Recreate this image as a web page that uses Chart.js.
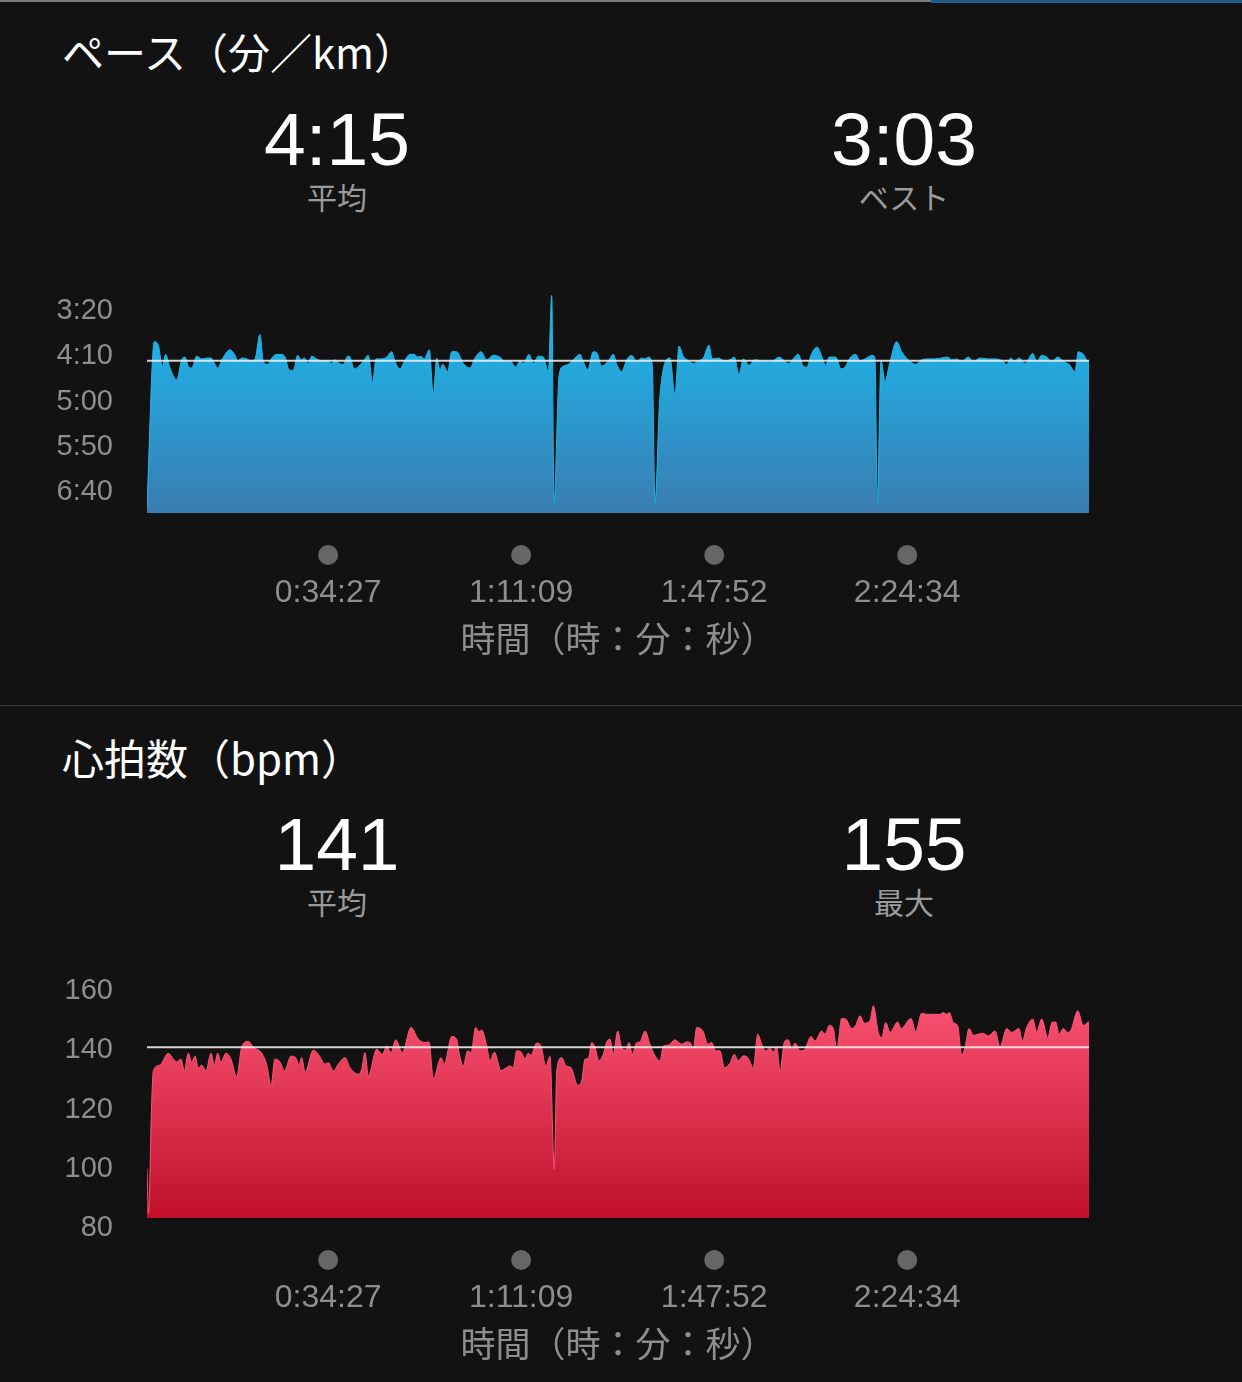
<!DOCTYPE html>
<html>
<head>
<meta charset="utf-8">
<script src="https://cdn.jsdelivr.net/npm/chart.js@4"></script>
<style>
  body { margin: 0; background: #121212; width: 1242px; height: 1382px; overflow: hidden; position: relative; }
  .abs { position: absolute; line-height: 1; white-space: nowrap; }
  .title { left: 62px; font: 42px "Noto Sans CJK JP"; color: #fff; }
  .big { font: 75px "Liberation Sans"; color: #fff; transform: translateX(-50%); }
  .sub { font: 30px "Noto Sans CJK JP"; color: #9a9a9a; transform: translateX(-50%); }
  canvas { position: absolute; left: 0; }
</style>
</head>
<body>
<div class="abs" style="left:0;top:0;width:931px;height:2px;background:#7a7a7a"></div>
<div class="abs" style="left:931px;top:0;width:311px;height:3px;background:#1c5f8c"></div>

<div class="abs title" style="top:20px">ペース（分／km）</div>
<div class="abs big" style="left:337px;top:96px">4:15</div>
<div class="abs sub" style="left:337px;top:174px">平均</div>
<div class="abs big" style="left:904px;top:96px">3:03</div>
<div class="abs sub" style="left:904px;top:174px">ベスト</div>
<canvas id="pace" width="1242" height="400" style="top:270px"></canvas>

<div class="abs" style="left:0;top:705px;width:1242px;height:1px;background:#3a3a3a"></div>

<div class="abs title" style="top:726px">心拍数（bpm）</div>
<div class="abs big" style="left:337px;top:801px">141</div>
<div class="abs sub" style="left:337px;top:879px">平均</div>
<div class="abs big" style="left:904px;top:801px">155</div>
<div class="abs sub" style="left:904px;top:879px">最大</div>
<canvas id="hr" width="1242" height="410" style="top:965px"></canvas>

<script>
// 経過時間（秒）の目盛り
const timeTicks = [2067, 4269, 6472, 8674];
const timeMax = 10748;

// ペース（秒／km）
const paceTicks = [200, 250, 300, 350, 400];
const paceAvg = 255;
const paceTimes = [
  0,83,129,175,213,262,339,396,434,471,
  510,567,624,681,730,756,807,859,947,1004,
  1035,1087,1138,1187,1232,1289,1327,1377,1423,1480,
  1529,1575,1620,1669,1719,1757,1795,1840,1879,1936,
  1993,2062,2107,2145,2191,2240,2290,2316,2365,2419,
  2479,2525,2575,2613,2678,2735,2792,2830,2887,2944,
  3001,3050,3089,3126,3164,3221,3267,3305,3343,3374,
  3431,3477,3534,3609,3685,3742,3811,3876,3951,4027,
  4085,4142,4207,4256,4294,4359,4408,4465,4522,4579,
  4618,4644,4701,4750,4807,4864,4941,4978,5028,5092,
  5131,5188,5257,5321,5359,5416,5473,5530,5588,5645,
  5682,5720,5765,5796,5853,5967,6024,6070,6119,6176,
  6233,6290,6347,6412,6450,6519,6587,6652,6701,6755,
  6804,6869,6937,7006,7089,7146,7211,7317,7431,7488,
  7527,7584,7648,7698,7744,7782,7858,7919,7964,8021,
  8086,8135,8192,8276,8306,8333,8375,8421,8466,8554,
  8611,8686,8771,8839,8915,8991,9068,9136,9182,9239,
  9296,9371,9428,9505,9592,9676,9759,9809,9858,9896,
  9950,10018,10106,10151,10208,10265,10322,10391,10455,10520,
  10588,10626,10683,10733,10748
];
const paceValues = [
  416,234,238,261,248,263,276,254,251,261,
  263,250,253,252,252,255,263,253,243,249,
  255,252,253,255,253,226,256,259,252,248,
  248,251,265,266,249,254,252,258,250,253,
  255,255,258,254,258,259,250,251,264,261,
  254,249,279,253,253,251,245,256,264,254,
  248,248,251,250,253,243,293,252,265,259,
  267,245,245,258,263,252,245,254,249,251,
  256,255,262,255,258,248,258,250,251,267,
  183,412,272,261,259,254,248,256,265,245,
  246,261,256,248,259,267,254,249,256,252,
  253,251,259,412,293,252,293,239,250,255,
  258,255,252,238,253,252,255,254,251,270,
  253,260,254,255,256,255,251,258,248,261,
  262,247,240,250,260,251,251,264,262,252,
  248,255,253,249,252,412,255,278,261,234,
  245,254,259,254,253,253,252,251,254,253,
  256,251,256,252,253,253,255,259,252,256,
  252,258,247,256,249,251,256,251,256,259,
  267,245,248,255,255
];

// 心拍数（bpm）
const hrTicks = [80, 100, 120, 140, 160];
const hrAvg = 141;
const hrTimes = [
  0,17,54,72,148,243,300,339,388,426,
  471,510,548,585,624,673,730,768,807,844,
  901,958,1023,1081,1156,1213,1309,1366,1415,1460,
  1518,1567,1643,1697,1734,1765,1803,1897,1955,2031,
  2069,2126,2183,2259,2316,2411,2450,2487,2525,2621,
  2685,2735,2784,2838,2913,3012,3096,3172,3218,3267,
  3355,3392,3477,3534,3560,3609,3659,3697,3750,3788,
  3819,3876,3914,3963,4039,4085,4142,4179,4218,4267,
  4313,4351,4381,4446,4496,4549,4598,4647,4675,4732,
  4781,4838,4914,4960,4998,5035,5074,5112,5157,5206,
  5245,5283,5320,5371,5416,5462,5500,5537,5588,5625,
  5682,5739,5788,5853,5891,5948,6024,6101,6158,6196,
  6233,6272,6347,6398,6443,6489,6538,6587,6652,6701,
  6747,6804,6854,6918,6968,7014,7059,7108,7146,7185,
  7223,7272,7317,7356,7394,7451,7500,7576,7622,7698,
  7736,7785,7831,7869,7927,7972,8041,8086,8135,8184,
  8249,8287,8344,8383,8429,8478,8565,8603,8717,8771,
  8839,8896,8991,9048,9086,9125,9154,9200,9250,9296,
  9333,9379,9428,9485,9542,9599,9676,9733,9809,9866,
  9950,9987,10037,10106,10151,10208,10277,10330,10368,10406,
  10455,10505,10543,10619,10683,10711,10741,10748
];
const hrValues = [
  100,85,123,133,135,139,137,136,137,133,
  139,136,138,134,135,133,139,135,139,136,
  139,137,131,141,143,141,139,135,128,137,
  136,133,138,137.5,135,137.5,132.5,140,138.6,135.3,
  135.8,133,135.3,137.5,134.1,131.9,133.6,139.2,131.3,140.3,
  138.6,141.4,139.2,143.5,139.2,147.7,143.7,142.6,142.8,130.4,
  137.5,135.3,144.6,143.7,139.2,134.7,139.8,139.2,147.7,146.2,
  146.8,141.4,136.4,139.4,133,133.8,134.7,134.1,139.8,139.4,
  137.2,139,138.3,142.4,141.4,134.7,137.9,99.8,133,137.5,
  134.7,134.1,128.2,129.6,137,137.2,142.6,140.9,136.4,138.6,
  142.8,143.7,138.6,146.5,140.9,140.1,142.6,138.6,142.6,142.8,
  146.5,142,138.6,136.4,141.4,141.7,143.5,142,142.8,142.6,
  140.3,147.7,146.2,142,142.6,139.8,139.8,134.1,135.6,138.6,
  136.4,138.1,137.5,134.1,145.4,142,139.8,140.6,139.4,141.1,
  132.7,142.8,143.5,140.3,142.4,139.8,140.1,144.6,143.1,146.5,
  145.4,148.4,147.3,140.1,150.7,150.5,147.3,148.4,151.6,149.1,
  149.9,155,146,144.3,149.3,146,149.5,147.3,150.7,146.2,
  152.5,152.1,152.1,152.1,152.7,152.1,152.7,149.3,148.2,138.3,
  140.9,147.3,145,145.4,145.7,144.8,146.5,141.2,147.3,146,
  147.3,143.1,147.7,150.5,146.2,150.5,144.3,149.5,149.5,145.4,
  147.3,146,146.8,153.3,148.4,148.8,149.5,149.5
];

function pad2(n) { return (n < 10 ? '0' : '') + n; }
function fmtTime(s) {
  const h = Math.floor(s / 3600), m = Math.floor((s % 3600) / 60), sec = s % 60;
  return h + ':' + pad2(m) + ':' + pad2(sec);
}
function fmtPace(s) { return Math.floor(s / 60) + ':' + pad2(s % 60); }

// 目盛りの上の丸
const tickDots = {
  id: 'tickDots',
  afterDraw(chart) {
    const x = chart.scales.x, c = chart.ctx;
    c.save();
    c.fillStyle = '#666666';
    x.ticks.forEach(t => {
      c.beginPath();
      c.arc(x.getPixelForValue(t.value), chart.chartArea.bottom + 42, 10, 0, Math.PI * 2);
      c.fill();
    });
    c.restore();
  }
};

function makeChart(id, times, values, avg, yTicks, yMin, yMax, reverse, fmtY, stops) {
  const pts = times.map((t, i) => ({ x: t, y: values[i] }));
  return new Chart(document.getElementById(id), {
    type: 'line',
    data: {
      datasets: [{
        data: [{ x: 0, y: avg }, { x: timeMax, y: avg }],
        borderColor: 'rgba(235,235,235,0.9)',
        borderWidth: 2,
        pointRadius: 0,
        fill: false,
        order: 0
      }, {
        data: pts,
        borderColor: stops[0][1],
        borderWidth: 1,
        pointRadius: 0,
        cubicInterpolationMode: 'monotone',
        fill: 'start',
        order: 1,
        backgroundColor: ctx => {
          const area = ctx.chart.chartArea;
          if (!area) return stops[1][1];
          const g = ctx.chart.ctx.createLinearGradient(0, area.top, 0, area.bottom);
          stops.forEach(s => g.addColorStop(s[0], s[1]));
          return g;
        }
      }]
    },
    options: {
      responsive: false,
      animation: false,
      layout: { padding: { top: 20, right: 153, left: 0, bottom: 0 } },
      plugins: { legend: { display: false }, tooltip: { enabled: false } },
      scales: {
        x: {
          type: 'linear',
          min: 0,
          max: timeMax,
          grid: { display: false, drawTicks: false },
          border: { display: false },
          afterBuildTicks: s => { s.ticks = timeTicks.map(v => ({ value: v })); },
          afterFit: s => { s.height = 157; s.paddingLeft = 0; s.paddingRight = 0; },
          ticks: {
            autoSkip: false,
            maxRotation: 0,
            padding: 61,
            color: '#8e8e8e',
            font: { family: 'Liberation Sans', size: 32 },
            callback: v => fmtTime(v)
          },
          title: {
            display: true,
            text: '時間（時：分：秒）',
            color: '#8e8e8e',
            padding: { top: 0, bottom: 10 },
            font: { family: 'Noto Sans CJK JP', size: 35 }
          }
        },
        y: {
          min: yMin,
          max: yMax,
          reverse: reverse,
          grid: { display: false, drawTicks: false },
          border: { display: false },
          afterBuildTicks: s => { s.ticks = yTicks.map(v => ({ value: v })); },
          afterFit: s => { s.width = 147; s.paddingTop = 0; s.paddingBottom = 0; },
          ticks: {
            padding: 34,
            color: '#8e8e8e',
            font: { family: 'Liberation Sans', size: 29 },
            callback: v => fmtY(v)
          }
        }
      }
    },
    plugins: [tickDots]
  });
}

makeChart('pace', paceTimes, paceValues, paceAvg, paceTicks, 177, 423, true, fmtPace,
  [[0, '#1fb6ea'], [0.3, '#22abe0'], [1, '#3a7cb1']]);
makeChart('hr', hrTimes, hrValues, hrAvg, hrTicks, 83.4, 162, false, v => String(v),
  [[0, '#ff5577'], [0.15, '#f54d6d'], [1, '#bf0f29']]);
</script>
</body>
</html>
